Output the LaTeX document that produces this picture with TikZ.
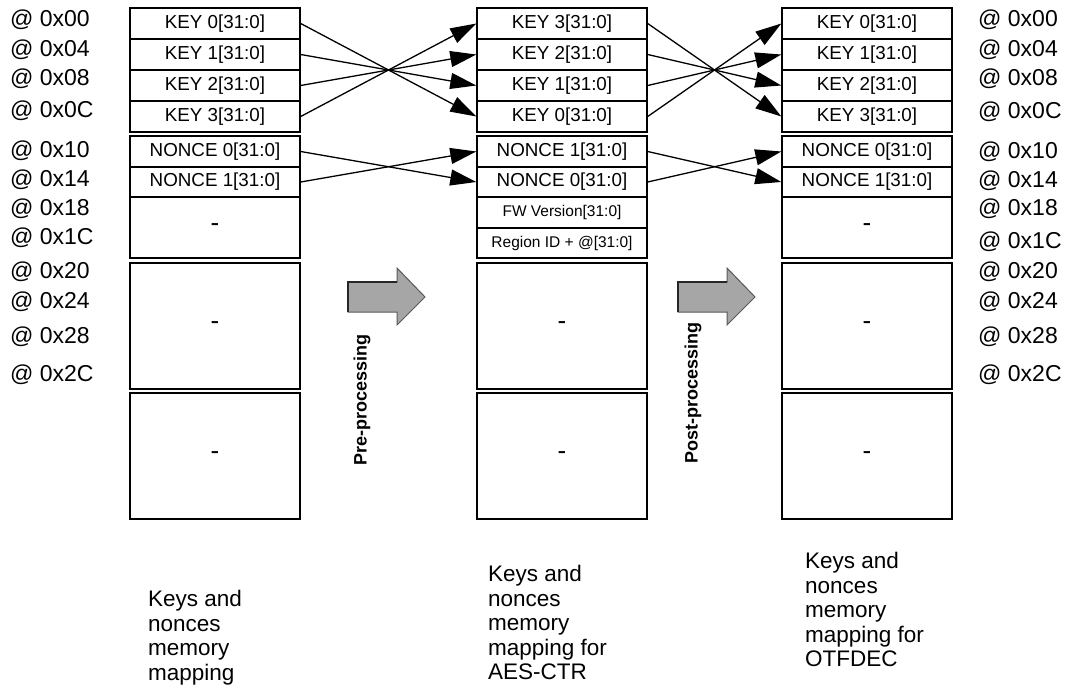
\documentclass[tikz,border=0pt]{standalone}
\usepackage{fontspec}
\setmainfont{Liberation Sans}
\usetikzlibrary{arrows.meta}

\begin{document}
\begin{tikzpicture}
  [x=1pt,y=-1pt,
   cell/.style={draw,line width=1.4pt,minimum width=170pt,inner sep=0pt,font=\fontsize{18.8}{20}\selectfont},
   small/.style={cell,font=\fontsize{15.5}{17}\selectfont},
   blank/.style={cell,font=\fontsize{26}{28}\selectfont},
   addr/.style={anchor=west,inner sep=0pt,font=\fontsize{23}{25}\selectfont},
   caption/.style={anchor=north west,align=left,inner sep=0pt,font=\fontsize{22.5}{24.5}\selectfont},
   link/.style={line width=1.3pt,-{Triangle[length=26pt,width=16pt]}},
   blockarrow/.style={fill=black!35,draw=black!65,line width=1pt,line join=miter},
   steplabel/.style={rotate=90,inner sep=0pt,font=\bfseries\fontsize{18}{20}\selectfont}]
  \useasboundingbox (0,0) rectangle (1073,688);

  % left column: keys and nonces
  \node[cell,minimum height=31pt] (lk0) at (215,23.5)  {KEY 0[31:0]};
  \node[cell,minimum height=31pt] (lk1) at (215,54.5)  {KEY 1[31:0]};
  \node[cell,minimum height=31pt] (lk2) at (215,85.5)  {KEY 2[31:0]};
  \node[cell,minimum height=31pt] (lk3) at (215,116.5) {KEY 3[31:0]};
  \node[cell,minimum height=31pt] (ln0) at (215,151.5) {NONCE 0[31:0]};
  \node[cell,minimum height=30pt] (ln1) at (215,182)   {NONCE 1[31:0]};
  \node[blank,minimum height=61pt] (lb0) at (215,227.5) {-};
  \node[blank,minimum height=126pt] (lb1) at (215,326)  {-};
  \node[blank,minimum height=126pt] (lb2) at (215,456)  {-};

  % middle column: AES-CTR
  \node[cell,minimum height=31pt] (mk3) at (562,23.5)  {KEY 3[31:0]};
  \node[cell,minimum height=31pt] (mk2) at (562,54.5)  {KEY 2[31:0]};
  \node[cell,minimum height=31pt] (mk1) at (562,85.5)  {KEY 1[31:0]};
  \node[cell,minimum height=31pt] (mk0) at (562,116.5) {KEY 0[31:0]};
  \node[cell,minimum height=31pt] (mn1) at (562,151.5) {NONCE 1[31:0]};
  \node[cell,minimum height=30pt] (mn0) at (562,182)   {NONCE 0[31:0]};
  \node[small,minimum height=31pt] (mfw) at (562,212.5) {FW Version[31:0]};
  \node[small,minimum height=30pt] (mrg) at (562,243)   {Region ID + @[31:0]};
  \node[blank,minimum height=126pt] (mb1) at (562,326)  {-};
  \node[blank,minimum height=126pt] (mb2) at (562,456)  {-};

  % right column: OTFDEC
  \node[cell,minimum height=31pt] (rk0) at (867,23.5)  {KEY 0[31:0]};
  \node[cell,minimum height=31pt] (rk1) at (867,54.5)  {KEY 1[31:0]};
  \node[cell,minimum height=31pt] (rk2) at (867,85.5)  {KEY 2[31:0]};
  \node[cell,minimum height=31pt] (rk3) at (867,116.5) {KEY 3[31:0]};
  \node[cell,minimum height=31pt] (rn0) at (867,151.5) {NONCE 0[31:0]};
  \node[cell,minimum height=30pt] (rn1) at (867,182)   {NONCE 1[31:0]};
  \node[blank,minimum height=61pt] (rb0) at (867,227.5) {-};
  \node[blank,minimum height=126pt] (rb1) at (867,326)  {-};
  \node[blank,minimum height=126pt] (rb2) at (867,456)  {-};

  \foreach \from/\to in {lk0/mk0,lk1/mk1,lk2/mk2,lk3/mk3,ln0/mn0,ln1/mn1,
                         mk0/rk0,mk1/rk1,mk2/rk2,mk3/rk3,mn0/rn0,mn1/rn1}
    \draw[link] (\from.east) -- (\to.west);

  % addresses
  \foreach \i/\a/\ly/\ry in {0/00/20/20,1/04/50/50,2/08/79/79,3/0C/111/112,
                             4/10/151/152,5/14/180/181,6/18/209/209,7/1C/238/242,
                             8/20/272/272,9/24/302/302,10/28/337/337,11/2C/375/375}
  {
    \node[addr] (la\i) at (10,\ly)  {@ 0x\a};
    \node[addr] (ra\i) at (978,\ry) {@ 0x\a};
  }

  % processing steps
  \draw[blockarrow] (348,282) -- (397,282) -- (397,268) -- (425,297) -- (397,325) -- (397,312) -- (348,312) -- cycle;
  \draw[line width=2.2pt,black!85] (348,312) -- (348,282) -- (397,282);
  \node[steplabel] (pre) at (362,400) {Pre-processing};

  \draw[blockarrow] (678,282) -- (727,282) -- (727,268) -- (755,297) -- (727,325) -- (727,312) -- (678,312) -- cycle;
  \draw[line width=2.2pt,black!85] (678,312) -- (678,282) -- (727,282);
  \node[steplabel] (post) at (693,393) {Post-processing};

  % captions
  \node[caption] (lcap) at (148,590) {Keys and\\nonces\\memory\\mapping};
  \node[caption] (mcap) at (488,565) {Keys and\\nonces\\memory\\mapping for\\AES-CTR};
  \node[caption] (rcap) at (805,552) {Keys and\\nonces\\memory\\mapping for\\OTFDEC};
\end{tikzpicture}
\end{document}
